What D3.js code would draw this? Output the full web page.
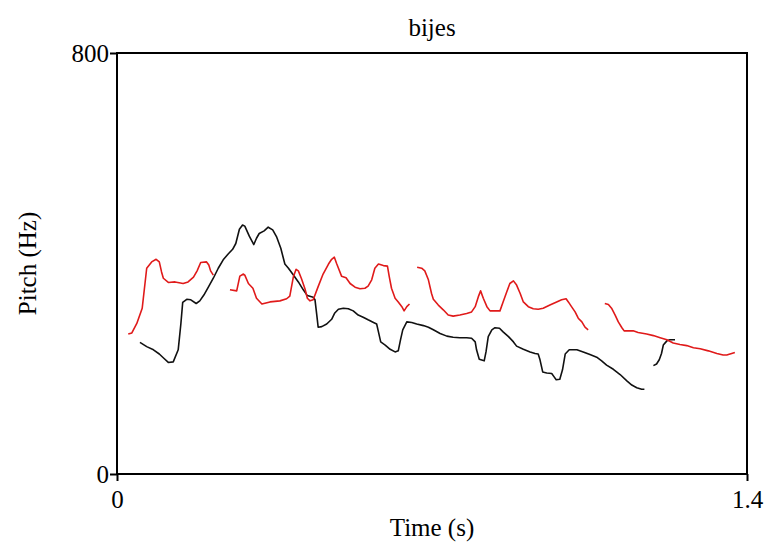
<!DOCTYPE html>
<html>
<head>
<meta charset="utf-8">
<script src="https://cdn.jsdelivr.net/npm/d3@7"></script>
<style>
    html, body { margin: 0; padding: 0; background: #fff; }
    svg text { font-family: "Liberation Serif", "Times New Roman", serif; fill: #000; }
</style>
</head>
<body>
<svg id="pitch-chart" width="770" height="545"></svg>
<script>
// --- Data: [time (s), pitch (Hz)] per voiced stretch ---
const chartTitle = "bijes";
const xTicks = [0, 1.4];
const yTicks = [0, 800];

// black speaker
const blackSeg1 = [
    [0.051, 250], [0.066, 242], [0.081, 236], [0.094, 228], [0.104, 220], [0.114, 212],
    [0.125, 213], [0.136, 236], [0.142, 286], [0.146, 326], [0.155, 332], [0.164, 331],
    [0.176, 324], [0.184, 329], [0.193, 340], [0.203, 355], [0.214, 372], [0.225, 391],
    [0.236, 407], [0.247, 418], [0.257, 427], [0.264, 438], [0.272, 465], [0.279, 473],
    [0.284, 471], [0.294, 452], [0.304, 436], [0.310, 448], [0.316, 457], [0.327, 462],
    [0.336, 469], [0.346, 464], [0.355, 450], [0.364, 429], [0.373, 399], [0.381, 391],
    [0.392, 378], [0.403, 365], [0.414, 350], [0.423, 339], [0.436, 336], [0.440, 331],
    [0.444, 302], [0.447, 279], [0.455, 280], [0.466, 285], [0.477, 294], [0.484, 306],
    [0.492, 313], [0.503, 315], [0.514, 314], [0.525, 310], [0.536, 302], [0.547, 298],
    [0.558, 293], [0.570, 288], [0.577, 285], [0.581, 270], [0.586, 251], [0.596, 245],
    [0.607, 237], [0.618, 232], [0.625, 234], [0.630, 255], [0.635, 274], [0.644, 289],
    [0.655, 288], [0.666, 285], [0.681, 282], [0.692, 279], [0.703, 274], [0.718, 267],
    [0.733, 262], [0.747, 260], [0.762, 259], [0.777, 259], [0.788, 258], [0.796, 251],
    [0.799, 236], [0.805, 218], [0.816, 215], [0.820, 232], [0.825, 261], [0.833, 274],
    [0.840, 278], [0.850, 277], [0.858, 270], [0.870, 261], [0.881, 251], [0.888, 243],
    [0.903, 237], [0.918, 232], [0.929, 229], [0.936, 228], [0.940, 217], [0.946, 194],
    [0.955, 192], [0.966, 191], [0.971, 185], [0.976, 179], [0.984, 180], [0.990, 198],
    [0.996, 228], [1.005, 236], [1.022, 236], [1.036, 232], [1.051, 227], [1.066, 222],
    [1.077, 215], [1.088, 207], [1.103, 199], [1.118, 189], [1.133, 177], [1.144, 169],
    [1.155, 164], [1.166, 161], [1.172, 161]
];
const blackSeg2 = [
    [1.192, 206], [1.199, 209], [1.205, 217], [1.210, 229], [1.214, 245], [1.222, 253],
    [1.229, 255], [1.240, 255]
];

// red speaker
const redSeg1 = [
    [0.025, 266], [0.033, 268], [0.044, 286], [0.056, 315], [0.066, 391], [0.077, 403],
    [0.087, 408], [0.094, 403], [0.099, 384], [0.103, 372], [0.114, 364], [0.129, 365],
    [0.147, 362], [0.158, 365], [0.170, 374], [0.178, 386], [0.186, 402], [0.199, 403],
    [0.204, 397], [0.208, 386], [0.214, 378]
];
const redSeg2 = [
    [0.251, 350], [0.266, 348], [0.273, 376], [0.281, 380], [0.284, 378], [0.292, 362],
    [0.302, 353], [0.310, 334], [0.322, 323], [0.340, 327], [0.362, 329], [0.377, 333],
    [0.384, 338], [0.392, 375], [0.398, 389], [0.403, 386], [0.410, 371], [0.418, 351],
    [0.423, 334], [0.429, 329], [0.436, 331], [0.447, 356], [0.458, 380], [0.470, 399],
    [0.477, 408], [0.483, 412], [0.488, 400], [0.499, 376], [0.509, 373], [0.518, 362],
    [0.529, 355], [0.540, 352], [0.551, 353], [0.558, 357], [0.566, 369], [0.573, 391],
    [0.581, 399], [0.592, 396], [0.601, 395], [0.605, 375], [0.610, 353], [0.618, 334],
    [0.625, 327], [0.633, 318], [0.638, 310], [0.644, 318], [0.650, 323]
];
const redSeg3 = [
    [0.667, 393], [0.677, 391], [0.684, 386], [0.692, 369], [0.699, 343], [0.703, 332],
    [0.714, 321], [0.725, 312], [0.736, 302], [0.747, 300], [0.762, 302], [0.777, 305],
    [0.788, 308], [0.796, 318], [0.803, 337], [0.808, 348], [0.814, 334], [0.822, 318],
    [0.829, 310], [0.840, 310], [0.851, 310], [0.858, 327], [0.866, 346], [0.873, 362],
    [0.881, 367], [0.888, 359], [0.896, 343], [0.903, 327], [0.914, 318], [0.925, 314],
    [0.936, 313], [0.947, 315], [0.962, 321], [0.977, 327], [0.988, 331], [0.998, 333],
    [1.003, 327], [1.010, 318], [1.018, 308], [1.025, 296], [1.033, 289], [1.040, 279],
    [1.047, 274]
];
const redSeg4 = [
    [1.084, 324], [1.092, 322], [1.099, 315], [1.107, 302], [1.114, 289], [1.122, 278],
    [1.127, 272], [1.136, 272], [1.147, 272], [1.158, 269], [1.177, 266], [1.192, 263],
    [1.207, 259], [1.222, 255], [1.236, 249], [1.251, 246], [1.266, 244], [1.281, 240],
    [1.296, 238], [1.314, 234], [1.333, 229], [1.347, 226], [1.355, 226], [1.366, 229],
    [1.373, 231]
];

const series = [
    { color: "#111", segments: [blackSeg1, blackSeg2] },
    { color: "#e01a1a", segments: [redSeg1, redSeg2, redSeg3, redSeg4] }
];

// --- Layout ---
const margin = { top: 53, right: 23, bottom: 71, left: 117 };
const svgWidth = 770, svgHeight = 545;
const width = svgWidth - margin.left - margin.right;
const height = svgHeight - margin.top - margin.bottom;
const fontFamily = '"Liberation Serif", "Times New Roman", serif';
const fontSize = "25px";

const svg = d3.select("#pitch-chart");
const g = svg.append("g").attr("transform", `translate(${margin.left},${margin.top})`);

// Scales
const x = d3.scaleLinear().domain([0, 1.4]).range([0, width]);
const y = d3.scaleLinear().domain([0, 800]).range([height, 0]);

// Pitch lines
const line = d3.line()
    .x(d => x(d[0]))
    .y(d => y(d[1]))
    .curve(d3.curveLinear);

series.forEach(s => {
    g.selectAll(null)
        .data(s.segments)
        .enter()
        .append("path")
        .attr("fill", "none")
        .attr("stroke", s.color)
        .attr("stroke-width", 1.6)
        .attr("stroke-linejoin", "round")
        .attr("d", line);
});

// Frame
g.append("rect")
    .attr("x", 0)
    .attr("y", 0)
    .attr("width", width)
    .attr("height", height)
    .attr("fill", "none")
    .attr("stroke", "#000")
    .attr("stroke-width", 2);

// Axes (ticks only at the ends, like Praat)
const xAxisG = g.append("g")
    .attr("transform", `translate(0,${height})`)
    .call(d3.axisBottom(x).tickValues(xTicks).tickFormat(d3.format("")).tickSize(7).tickSizeOuter(0).tickPadding(9));
const yAxisG = g.append("g")
    .call(d3.axisLeft(y).tickValues(yTicks).tickFormat(d3.format("d")).tickSize(7).tickSizeOuter(0).tickPadding(1));

[xAxisG, yAxisG].forEach(a => {
    a.attr("font-family", null).attr("font-size", null);
    a.select(".domain").remove();
    a.selectAll(".tick line").attr("stroke", "#000").attr("stroke-width", 2);
    a.selectAll(".tick text")
        .attr("fill", "#000")
        .style("font-family", fontFamily)
        .style("font-size", fontSize);
});

// Title and axis titles
function addLabel(text) {
    return svg.append("text")
        .attr("text-anchor", "middle")
        .style("font-family", fontFamily)
        .style("font-size", fontSize)
        .text(text);
}

addLabel(chartTitle)
    .attr("x", margin.left + width / 2)
    .attr("y", 36);

addLabel("Time (s)")
    .attr("x", margin.left + width / 2)
    .attr("y", 536);

addLabel("Pitch (Hz)")
    .attr("transform", `translate(36,${margin.top + height / 2}) rotate(-90)`);
</script>
</body>
</html>
